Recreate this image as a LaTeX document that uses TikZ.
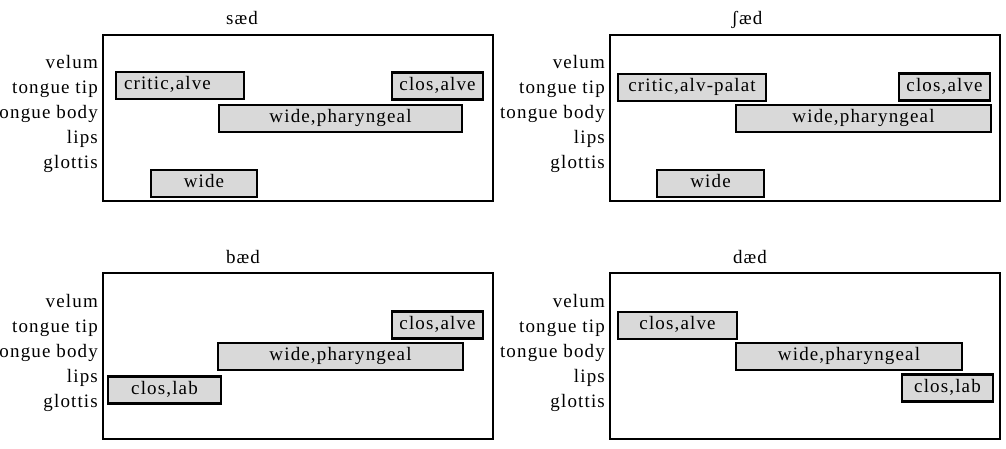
\documentclass[tikz,border=0pt]{standalone}
\usepackage{fontspec}
\setmainfont[LetterSpace=6]{Liberation Serif}
\begin{document}
\begin{tikzpicture}[
    x=1pt, y=-1pt,
    every node/.style={font=\fontsize{19}{22}\selectfont},
    panel/.style={draw, line width=2.4pt, minimum width=390pt, minimum height=166pt, inner sep=0pt},
    title/.style={anchor=base, inner sep=0pt},
    artic/.style={anchor=base east, inner sep=0pt},
    gest/.style={draw, line width=2.4pt, fill=black!15, minimum height=27pt, inner xsep=2pt, inner ysep=0pt, text height=0.82em, text depth=0pt},
    leftgest/.style={gest, align=left, inner xsep=8pt}
]
\useasboundingbox (0,0) rectangle (1006,449);
% Panneau 1 : sæd
\begin{scope}
    \node[title] (t1) at (242,25) {sæd};
    \node[panel] (f1) at (298,118) {};
    \foreach \lab [count=\i from 0] in {velum,tongue tip,tongue body,lips,glottis}
        \node[artic] (a1-\i) at (98,69+25*\i) {\lab};
    \node[leftgest, text width=112pt] (g1-tip) at (180,85.5) {critic,alve};
    \node[gest, minimum width=91pt] (g1-tip2) at (437.5,86) {clos,alve};
    \node[gest, minimum width=243pt] (g1-body) at (340.5,118.5) {wide,pharyngeal};
    \node[gest, minimum width=106pt] (g1-glot) at (204,183.5) {wide};
\end{scope}
% Panneau 2 : ʃæd
\begin{scope}[shift={(507,0)}]
    \node[title] (t2) at (240,25) {ʃæd};
    \node[panel] (f2) at (298,118) {};
    \foreach \lab [count=\i from 0] in {velum,tongue tip,tongue body,lips,glottis}
        \node[artic] (a2-\i) at (98,69+25*\i) {\lab};
    \node[gest, minimum width=148pt] (g2-tip) at (185,87.5) {critic,alv-palat};
    \node[gest, minimum width=91pt] (g2-tip2) at (437.5,87) {clos,alve};
    \node[gest, minimum width=255pt] (g2-body) at (356.5,118.5) {wide,pharyngeal};
    \node[gest, minimum width=107pt] (g2-glot) at (203.5,183.5) {wide};
\end{scope}
% Panneau 3 : bæd
\begin{scope}[shift={(0,238)}]
    \node[title] (t3) at (243,25) {bæd};
    \node[panel] (f3) at (298,118) {};
    \foreach \lab [count=\i from 0] in {velum,tongue tip,tongue body,lips,glottis}
        \node[artic] (a3-\i) at (98,69+25*\i) {\lab};
    \node[gest, minimum width=91pt] (g3-tip) at (437.5,87) {clos,alve};
    \node[gest, minimum width=245pt] (g3-body) at (340.5,118.5) {wide,pharyngeal};
    \node[gest, minimum width=113pt] (g3-lips) at (164.5,152) {clos,lab};
\end{scope}
% Panneau 4 : dæd
\begin{scope}[shift={(507,238)}]
    \node[title] (t4) at (243,25) {dæd};
    \node[panel] (f4) at (298,118) {};
    \foreach \lab [count=\i from 0] in {velum,tongue tip,tongue body,lips,glottis}
        \node[artic] (a4-\i) at (98,69+25*\i) {\lab};
    \node[gest, minimum width=119pt] (g4-tip) at (170.5,87.5) {clos,alve};
    \node[gest, minimum width=226pt] (g4-body) at (342,118.5) {wide,pharyngeal};
    \node[gest, minimum width=91pt] (g4-lips) at (440.5,150) {clos,lab};
\end{scope}
\end{tikzpicture}
\end{document}
